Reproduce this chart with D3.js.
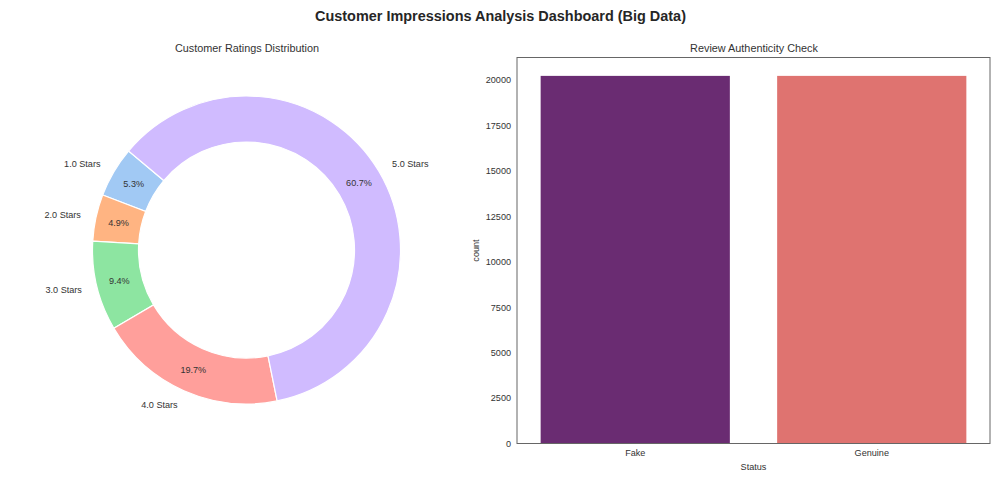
<!DOCTYPE html>
<html><head><meta charset="utf-8">
<script src="https://cdn.jsdelivr.net/npm/d3@7/dist/d3.min.js"></script>
<style>
html,body{margin:0;padding:0;background:#fff}
svg{display:block}
text{font-family:"Liberation Sans",Arial,sans-serif;fill:#333}
</style></head><body>
<svg id="c" width="1000" height="491"></svg>
<script>
const ratingLabels=["1.0 Stars","2.0 Stars","3.0 Stars","4.0 Stars","5.0 Stars"];
const ratingShares=[5.3,4.9,9.4,19.7,60.7];
const ratingColors=["#a1c9f4","#ffb482","#8de5a1","#ff9f9b","#d0bbff"];
const statusLabels=["Fake","Genuine"];
const statusCounts=[20216,20216];
const statusColors=["#6a2c72","#df7370"];
const countTicks=[0,2500,5000,7500,10000,12500,15000,17500,20000];

const svg=d3.select("#c");
svg.append("text").attr("x",500.5).attr("y",20.5).attr("text-anchor","middle")
  .attr("font-size",14.45).attr("font-weight","bold").style("fill","#262626").text("Customer Impressions Analysis Dashboard (Big Data)");

/* donut */
const cx=246.5,cy=250,R=154,r=108;
svg.append("text").attr("x",cx+0.5).attr("y",52).attr("text-anchor","middle").attr("font-size",10.85).text("Customer Ratings Distribution");
const deg=Math.PI/180;
const pie=d3.pie().sort(null).startAngle(-50*deg).endAngle(-410*deg);
const arcs=pie(ratingShares);
const arc=d3.arc().innerRadius(r).outerRadius(R);
const g=svg.append("g").attr("transform",`translate(${cx},${cy})`);
g.selectAll("path").data(arcs).join("path").attr("d",arc)
  .attr("fill",(d,i)=>ratingColors[i]).attr("stroke","#fff").attr("stroke-width",1.2);
const mid=d=>(d.startAngle+d.endAngle)/2;
g.selectAll("text.l").data(arcs).join("text").attr("class","l")
  .attr("x",d=>Math.sin(mid(d))*R*1.1).attr("y",d=>-Math.cos(mid(d))*R*1.1)
  .attr("dy","0.35em").attr("font-size",9.1)
  .attr("text-anchor",d=>Math.sin(mid(d))>0?"start":"end")
  .text((d,i)=>ratingLabels[i]);
g.selectAll("text.p").data(arcs).join("text").attr("class","p")
  .attr("x",d=>Math.sin(mid(d))*R*0.85).attr("y",d=>-Math.cos(mid(d))*R*0.85)
  .attr("dy","0.35em").attr("font-size",9.1).attr("text-anchor","middle")
  .text((d,i)=>ratingShares[i].toFixed(1)+"%");

/* bars */
const L=517,Rt=990,T=57.5,B=443.5;
svg.append("text").attr("x",(L+Rt)/2+0.5).attr("y",52).attr("text-anchor","middle").attr("font-size",10.85).text("Review Authenticity Check");
const x=d3.scaleBand().domain(statusLabels).range([L,Rt]).paddingInner(0.2).paddingOuter(0.1);
const y=d3.scaleLinear().domain([0,21227]).range([B,T]);
svg.selectAll("rect.b").data(statusLabels).join("rect").attr("class","b")
  .attr("x",d=>x(d)).attr("width",x.bandwidth())
  .attr("y",(d,i)=>y(statusCounts[i])).attr("height",(d,i)=>B-y(statusCounts[i]))
  .attr("fill",(d,i)=>statusColors[i]);
const ax=svg.append("g").attr("transform",`translate(0,${B})`).call(d3.axisBottom(x).tickSize(0).tickPadding(6));
const ay=svg.append("g").attr("transform",`translate(${L},0)`).call(d3.axisLeft(y).tickValues(countTicks).tickFormat(d3.format("d")).tickSize(0).tickPadding(6));
[ax,ay].forEach(a=>{a.select(".domain").remove();a.selectAll("text").attr("font-size",9.1).attr("font-family",null).style("fill","#333");a.attr("font-family",null);});
svg.append("rect").attr("x",L).attr("y",T).attr("width",Rt-L).attr("height",B-T).attr("fill","none").attr("stroke","#666").attr("stroke-width",1);
svg.append("text").attr("x",(L+Rt)/2).attr("y",469.5).attr("text-anchor","middle").attr("font-size",9.1).text("Status");
svg.append("text").attr("transform",`translate(479,${(T+B)/2}) rotate(-90)`).attr("text-anchor","middle").attr("font-size",9.1).text("count");
</script>
</body></html>
